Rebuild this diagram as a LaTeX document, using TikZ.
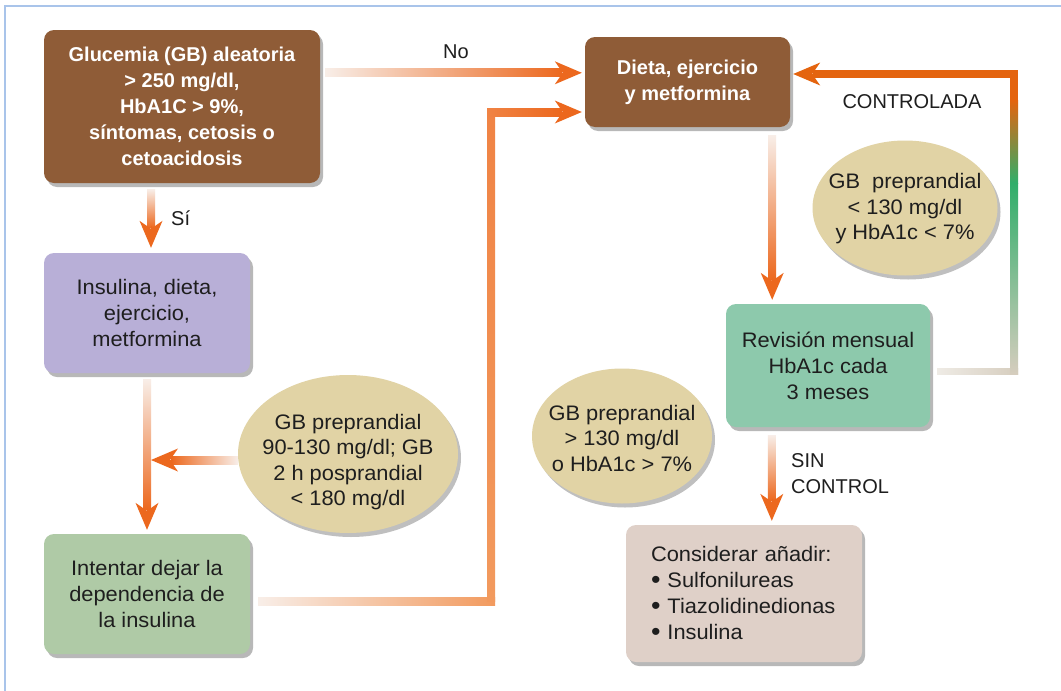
\documentclass[tikz,border=0pt]{standalone}
\usepackage{fontspec}
\setmainfont{Liberation Sans}
\newfontfamily\bodyfont{Liberation Sans}[FakeStretch=1.04]
\usetikzlibrary{arrows.meta,shapes.geometric,shadows,calc}
\newcommand\listdot{\raisebox{-1pt}{\fontsize{26}{26}\selectfont •}}

\definecolor{brownbox}{RGB}{143,92,55}
\definecolor{lilacbox}{RGB}{184,175,215}
\definecolor{sagebox}{RGB}{175,202,166}
\definecolor{mintbox}{RGB}{141,201,172}
\definecolor{rosebox}{RGB}{223,208,200}
\definecolor{ovalfill}{RGB}{225,211,165}
\definecolor{arrowor}{RGB}{236,104,30}
\definecolor{shaftlight}{RGB}{248,238,232}
\definecolor{shaftmid}{RGB}{242,154,94}
\definecolor{shaftdeep}{RGB}{240,131,68}
\definecolor{loopor}{RGB}{228,100,15}
\definecolor{loopolive}{RGB}{174,154,62}
\definecolor{loopgreen}{RGB}{48,174,106}
\definecolor{loopsage}{RGB}{150,188,144}
\definecolor{loopbeige}{RGB}{214,205,190}
\definecolor{framec}{RGB}{169,196,234}
\definecolor{inkc}{RGB}{30,30,30}

\begin{document}
\begin{tikzpicture}[x=1pt,y=-1pt,
  box/.style={rectangle, rounded corners=10pt, inner sep=0pt, align=center,
    text=inkc, font=\bodyfont\fontsize{21}{26}\selectfont,
    drop shadow={shadow xshift=3pt, shadow yshift=-4pt, fill=black, opacity=.28}},
  boldbox/.style={box, fill=brownbox, text=white,
    font=\rmfamily\bfseries\fontsize{20}{26}\selectfont},
  oval/.style={ellipse, fill=ovalfill, inner sep=0pt,
    drop shadow={shadow xshift=3pt, shadow yshift=-4pt, fill=black, opacity=.25}},
  ovaltext/.style={inner sep=0pt, align=center, text=inkc,
    font=\bodyfont\fontsize{21}{25.5}\selectfont},
  lbl/.style={text=inkc, font=\fontsize{20}{26}\selectfont, inner sep=0pt},
  tiphead/.style={draw=arrowor, line width=0.3pt,
    -{Stealth[length=27pt, width=23pt, inset=8pt, line width=0pt, fill=arrowor]}},
]
\useasboundingbox (0,0) rectangle (1061,691);
\fill[white] (0,0) rectangle (1061,691);

% frame lines
\draw[framec, line width=1.3pt] (5,691) -- (5,6) -- (1061,6);

% boxes
\node[boldbox, minimum width=276pt, minimum height=153pt] (glu) at (182,106.5)
  {Glucemia (GB) aleatoria\\> 250 mg/dl,\\HbA1C > 9\%,\\síntomas, cetosis o\\cetoacidosis};
\node[box, fill=lilacbox, minimum width=206pt, minimum height=120pt] (ins) at (147,313)
  {Insulina, dieta,\\ejercicio,\\metformina};
\node[box, fill=sagebox, minimum width=206pt, minimum height=120pt] (int) at (147,594)
  {Intentar dejar la\\dependencia de\\la insulina};
\node[boldbox, minimum width=205pt, minimum height=90pt] (die) at (687.5,82)
  {Dieta, ejercicio\\y metformina};
\node[box, fill=mintbox, minimum width=204pt, minimum height=123pt] (rev) at (828,365.5)
  {Revisión mensual\\HbA1c cada\\3 meses};
\node[box, fill=rosebox, minimum width=236pt, minimum height=137pt,
  text width=186pt, inner xsep=25pt, align=left] (con) at (744,593.5)
  {Considerar añadir:\\\listdot\ Sulfonilureas\\\listdot\ Tiazolidinedionas\\\listdot\ Insulina};

% condition ovals
\node[oval, minimum width=220pt, minimum height=158pt] (e1) at (348,454) {};
\node[ovaltext] (t1) at ($(e1.center)+(0,8)$)
  {GB preprandial\\90-130 mg/dl; GB\\2 h posprandial\\< 180 mg/dl};
\node[oval, minimum width=185pt, minimum height=135pt] (e2) at (905,208) {};
\node[ovaltext] (t2) at ($(e2.center)+(0,1)$)
  {GB\ \ preprandial\\< 130 mg/dl\\y HbA1c < 7\%};
\node[oval, minimum width=180pt, minimum height=135pt] (e3) at (622,436) {};
\node[ovaltext] (t3) at ($(e3.center)+(0,2)$)
  {GB preprandial\\> 130 mg/dl\\o HbA1c > 7\%};

% connector end points
\coordinate (nS) at ($(glu.north east)+(5,43)$);
\coordinate (nE) at ($(nS -| die.west)+(-3,0)$);
\coordinate (sS) at ($(glu.south)+(-31,6)$);
\coordinate (sE) at ($(ins.north)+(4,-5)$);
\coordinate (aS) at ($(ins.south)+(0,6)$);
\coordinate (aE) at ($(int.north)+(0,-4)$);
\coordinate (bS) at ($(e1.west)+(0,6)$);
\coordinate (bE) at ($(aS |- bS)+(4,0)$);
\coordinate (pS) at ($(int.east)+(8,7)$);
\coordinate (pE) at ($(die.west)+(-3,30)$);
\coordinate (pA) at ($(pS)+(233,0)$);
\coordinate (pB) at (pA |- pE);
\coordinate (cS) at ($(die.south east)+(-18,8)$);
\coordinate (cE) at ($(cS |- rev.north)+(0,-4)$);
\coordinate (dS) at ($(rev.south west)+(46,8)$);
\coordinate (dE) at ($(dS |- con.north)+(0,-4)$);
\coordinate (qS) at ($(rev.east)+(7,6)$);
\coordinate (qE) at ($(die.east)+(3,-8)$);
\coordinate (qA) at ($(qS)+(77,0)$);
\coordinate (qB) at (qA |- qE);

% No
\shade[left color=shaftlight, right color=arrowor] ($(nS)+(0,-4)$) rectangle ($(nE)+(-20,4)$);
\draw[tiphead] ($(nE)+(-22,0)$) -- (nE);
\node[lbl] (lno) at (456,52) {No};

% Sí
\shade[top color=shaftlight, bottom color=arrowor] ($(sS)+(-4,0)$) rectangle ($(sE)+(4,-20)$);
\draw[tiphead] ($(sE)+(0,-22)$) -- (sE);
\node[lbl, anchor=west] (lsi) at (171,218) {Sí};

% Insulina -> Intentar
\shade[top color=shaftlight, bottom color=arrowor] ($(aS)+(-4,0)$) rectangle ($(aE)+(4,-20)$);
\draw[tiphead] ($(aE)+(0,-22)$) -- (aE);

% oval -> vertical connector
\shade[left color=arrowor, right color=shaftlight] ($(bE)+(20,-4)$) rectangle ($(bS)+(0,4)$);
\draw[tiphead] ($(bE)+(22,0)$) -- (bE);

% Intentar -> Dieta
\shade[left color=shaftlight, right color=shaftmid] ($(pS)+(0,-4)$) rectangle ($(pA)+(4,4)$);
\shade[bottom color=shaftmid, top color=shaftdeep] ($(pA)+(-4,0)$) rectangle ($(pB)+(4,-4)$);
\shade[left color=shaftdeep, right color=arrowor] ($(pB)+(-4,-4)$) rectangle ($(pE)+(-20,4)$);
\draw[tiphead] ($(pE)+(-22,0)$) -- (pE);

% Dieta -> Revisión
\shade[top color=shaftlight, bottom color=arrowor] ($(cS)+(-4,0)$) rectangle ($(cE)+(4,-20)$);
\draw[tiphead] ($(cE)+(0,-22)$) -- (cE);

% Revisión -> Considerar
\shade[top color=shaftlight, bottom color=arrowor] ($(dS)+(-4,0)$) rectangle ($(dE)+(4,-20)$);
\draw[tiphead] ($(dE)+(0,-22)$) -- (dE);
\node[lbl, anchor=west, align=left] (lsin) at (791,474) {SIN\\CONTROL};

% Revisión -> Dieta (controlled loop)
\shade[left color=loopbeige!40, right color=loopbeige] ($(qS)+(0,-3)$) rectangle ($(qA)+(4,3)$);
\shade[top color=loopgreen, middle color=loopsage, bottom color=loopbeige] ($(qA)+(-4,3)$) rectangle ($(qA |- 0,183)+(4,0)$);
\shade[top color=loopor, middle color=loopolive, bottom color=loopgreen] ($(qA |- 0,183)+(-4,0)$) rectangle ($(qA |- 0,100)+(4,0)$);
\fill[loopor] ($(qA |- 0,100)+(-4,0)$) rectangle ($(qB)+(4,-4)$);
\fill[loopor] ($(qB)+(4,-4)$) rectangle ($(qE)+(20,4)$);
\draw[tiphead, draw=loopor, -{Stealth[length=27pt, width=23pt, inset=8pt, line width=0pt, fill=loopor]}] ($(qE)+(22,0)$) -- (qE);
\node[lbl] (lctl) at (912,102) {CONTROLADA};

\end{tikzpicture}
\end{document}
